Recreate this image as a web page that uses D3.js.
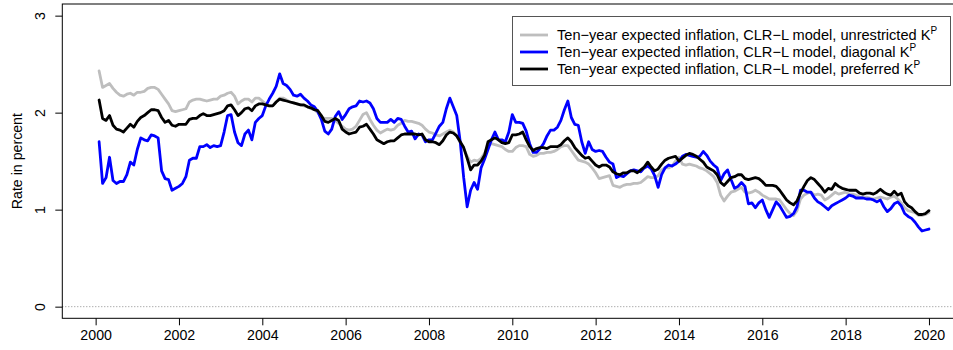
<!DOCTYPE html>
<html>
<head>
<meta charset="utf-8">
<script src="https://cdn.jsdelivr.net/npm/d3@7"></script>
<style>
  html, body { margin: 0; padding: 0; background: #ffffff; }
  svg { display: block; font-family: "Liberation Sans", Arial, Helvetica, sans-serif; }
</style>
</head>
<body>
<div id="chart"></div>
<script>
// Monthly observations, first one is February 2000
const startYear = 2000;
const startMonth = 2;

const unrestricted = [
  2.43,2.26,2.28,2.30,2.25,2.21,2.18,2.17,2.19,2.20,2.18,2.21,
  2.21,2.22,2.25,2.26,2.26,2.24,2.19,2.14,2.09,2.02,2.01,2.02,
  2.03,2.04,2.11,2.13,2.14,2.14,2.13,2.12,2.13,2.14,2.14,2.17,
  2.18,2.20,2.21,2.17,2.09,2.12,2.14,2.14,2.11,2.15,2.15,2.12,
  2.09,2.07,2.07,2.11,2.15,2.15,2.13,2.11,2.10,2.09,2.08,2.07,
  2.06,2.04,2.03,2.00,1.95,1.94,1.94,1.94,1.92,1.89,1.86,1.83,
  1.82,1.83,1.86,1.92,1.98,2.00,1.93,1.87,1.82,1.79,1.81,1.83,
  1.82,1.83,1.87,1.89,1.92,1.91,1.91,1.90,1.89,1.87,1.83,1.80,
  1.79,1.77,1.76,1.78,1.80,1.82,1.80,1.76,1.69,1.63,1.55,1.49,
  1.51,1.50,1.53,1.58,1.66,1.68,1.67,1.66,1.65,1.62,1.60,1.60,
  1.64,1.66,1.66,1.65,1.57,1.55,1.56,1.58,1.58,1.59,1.59,1.60,
  1.62,1.65,1.66,1.66,1.61,1.56,1.51,1.50,1.49,1.47,1.43,1.38,
  1.32,1.33,1.34,1.35,1.25,1.24,1.23,1.25,1.26,1.26,1.27,1.27,
  1.28,1.31,1.34,1.33,1.33,1.35,1.41,1.43,1.43,1.45,1.50,1.54,
  1.47,1.46,1.47,1.46,1.45,1.43,1.42,1.40,1.37,1.34,1.28,1.15,
  1.09,1.14,1.18,1.19,1.21,1.23,1.18,1.17,1.18,1.20,1.18,1.15,
  1.13,1.11,1.11,1.11,1.10,1.05,1.00,0.96,0.94,0.99,1.11,1.15,
  1.17,1.18,1.15,1.16,1.15,1.10,1.12,1.15,1.18,1.16,1.17,1.18,
  1.16,1.16,1.15,1.13,1.13,1.13,1.12,1.11,1.12,1.13,1.12,1.11,
  1.13,1.14,1.11,1.07,1.02,0.99,0.98,0.97,0.94,0.94,0.95,0.97
];

const diagonal = [
  1.70,1.27,1.33,1.54,1.30,1.27,1.29,1.29,1.36,1.49,1.46,1.62,
  1.74,1.72,1.71,1.77,1.76,1.74,1.40,1.32,1.31,1.20,1.22,1.24,
  1.27,1.34,1.51,1.53,1.53,1.65,1.65,1.67,1.64,1.66,1.65,1.66,
  1.80,1.97,1.98,1.80,1.69,1.66,1.78,1.82,1.72,1.90,1.94,1.97,
  2.07,2.14,2.20,2.27,2.40,2.30,2.28,2.24,2.18,2.17,2.19,2.15,
  2.12,2.08,2.06,2.01,1.93,1.81,1.78,1.83,1.96,2.01,1.93,1.98,
  2.04,2.06,2.07,2.12,2.11,2.12,2.10,2.04,1.94,1.90,1.90,1.90,
  1.93,1.90,1.94,1.93,1.86,1.80,1.81,1.73,1.78,1.77,1.70,1.72,
  1.72,1.79,1.86,1.90,2.04,2.15,2.06,1.97,1.70,1.33,1.03,1.20,
  1.28,1.21,1.43,1.52,1.62,1.72,1.80,1.72,1.72,1.70,1.80,1.98,
  1.90,1.90,1.89,1.81,1.68,1.59,1.59,1.63,1.68,1.76,1.82,1.82,
  1.85,1.92,2.03,2.12,1.95,1.88,1.87,1.70,1.58,1.70,1.62,1.60,
  1.61,1.60,1.54,1.49,1.47,1.33,1.35,1.34,1.37,1.40,1.41,1.40,
  1.39,1.43,1.45,1.42,1.35,1.23,1.36,1.43,1.46,1.45,1.47,1.50,
  1.55,1.57,1.56,1.55,1.54,1.55,1.60,1.56,1.50,1.46,1.43,1.30,
  1.37,1.41,1.31,1.22,1.24,1.28,1.24,1.06,1.07,1.02,1.07,1.10,
  1.00,0.92,1.00,1.08,1.04,0.98,0.92,0.93,0.96,1.03,1.20,1.20,
  1.18,1.18,1.12,1.08,1.06,1.03,1.00,1.04,1.06,1.08,1.10,1.12,
  1.15,1.14,1.12,1.12,1.12,1.11,1.11,1.10,1.08,1.10,1.03,0.98,
  1.01,1.06,1.08,1.04,0.96,0.93,0.91,0.87,0.82,0.78,0.79,0.80
];

const preferred = [
  2.13,1.94,1.92,1.97,1.87,1.83,1.82,1.80,1.84,1.88,1.85,1.91,
  1.95,1.97,2.00,2.03,2.03,2.02,1.95,1.90,1.92,1.87,1.86,1.88,
  1.88,1.88,1.93,1.94,1.94,1.97,1.99,1.97,1.97,1.98,1.99,2.00,
  2.02,2.07,2.08,2.03,1.97,2.00,2.04,2.05,2.02,2.07,2.09,2.09,
  2.08,2.07,2.07,2.11,2.14,2.13,2.12,2.11,2.10,2.09,2.08,2.08,
  2.06,2.05,2.03,2.02,1.97,1.91,1.90,1.92,1.94,1.92,1.83,1.80,
  1.78,1.79,1.80,1.85,1.86,1.88,1.83,1.78,1.72,1.70,1.68,1.70,
  1.71,1.71,1.74,1.77,1.78,1.78,1.78,1.78,1.77,1.78,1.72,1.70,
  1.70,1.69,1.67,1.71,1.77,1.80,1.79,1.76,1.70,1.64,1.53,1.41,
  1.46,1.46,1.50,1.56,1.70,1.72,1.74,1.72,1.69,1.68,1.69,1.77,
  1.77,1.78,1.80,1.72,1.65,1.61,1.63,1.64,1.64,1.63,1.65,1.65,
  1.65,1.67,1.71,1.74,1.70,1.64,1.60,1.56,1.53,1.54,1.50,1.46,
  1.44,1.46,1.46,1.44,1.39,1.37,1.36,1.38,1.38,1.40,1.40,1.38,
  1.41,1.44,1.49,1.44,1.40,1.42,1.47,1.51,1.53,1.54,1.55,1.50,
  1.53,1.56,1.58,1.57,1.55,1.52,1.49,1.44,1.42,1.40,1.36,1.28,
  1.25,1.29,1.33,1.34,1.36,1.36,1.32,1.31,1.32,1.33,1.32,1.29,
  1.25,1.25,1.25,1.24,1.20,1.15,1.10,1.07,1.05,1.09,1.17,1.24,
  1.30,1.33,1.31,1.27,1.23,1.18,1.22,1.21,1.27,1.24,1.22,1.21,
  1.20,1.20,1.20,1.17,1.16,1.17,1.17,1.16,1.18,1.21,1.18,1.16,
  1.15,1.19,1.15,1.17,1.08,1.04,1.02,0.98,0.95,0.95,0.96,0.99
];

const xTicks = [2000, 2002, 2004, 2006, 2008, 2010, 2012, 2014, 2016, 2018, 2020];
const yTicks = [0, 1, 2, 3];
const legendLabels = [
  "Ten\u2212year expected inflation, CLR\u2212L model, unrestricted K",
  "Ten\u2212year expected inflation, CLR\u2212L model, diagonal K",
  "Ten\u2212year expected inflation, CLR\u2212L model, preferred K"
];
const seriesColors = ["#bebebe", "#0000ff", "#000000"];
const yTitle = "Rate in percent";

const W = 953, H = 350;
const plot = { left: 62.3, top: 4, right: 962.3, bottom: 318.3 };
const fontFamily = "Liberation Sans, Arial, Helvetica, sans-serif";

const svg = d3.select("#chart").append("svg")
  .attr("width", W).attr("height", H)
  .attr("viewBox", `0 0 ${W} ${H}`);

const x = d3.scaleLinear().domain([1999.2, 2020.8]).range([plot.left, plot.right]);
const y = d3.scaleLinear().domain([-0.12, 3.12]).range([plot.bottom, plot.top]);

const toPoints = vals => vals.map((v, i) => ({ t: startYear + (startMonth - 1 + i) / 12, v }));
const series = [unrestricted, diagonal, preferred].map(toPoints);

// zero reference line
svg.append("line")
  .attr("x1", plot.left).attr("x2", plot.right)
  .attr("y1", y(0)).attr("y2", y(0))
  .attr("stroke", "#8c8c8c").attr("stroke-width", 1)
  .attr("stroke-dasharray", "1,2");

// series lines, clipped to the plot region
svg.append("clipPath").attr("id", "plotclip").append("rect")
  .attr("x", plot.left).attr("y", plot.top)
  .attr("width", plot.right - plot.left).attr("height", plot.bottom - plot.top);

const line = d3.line().x(d => x(d.t)).y(d => y(d.v));
series.forEach((pts, k) => {
  svg.append("path")
    .datum(pts)
    .attr("clip-path", "url(#plotclip)")
    .attr("fill", "none")
    .attr("stroke", seriesColors[k])
    .attr("stroke-width", 2.8)
    .attr("stroke-linejoin", "round")
    .attr("stroke-linecap", "round")
    .attr("d", line);
});

// plot frame
svg.append("rect")
  .attr("x", plot.left).attr("y", plot.top)
  .attr("width", plot.right - plot.left).attr("height", plot.bottom - plot.top)
  .attr("fill", "none").attr("stroke", "#000").attr("stroke-width", 1);

// x axis
const xAxis = d3.axisBottom(x).tickValues(xTicks).tickFormat(d3.format("d"))
  .tickSize(7).tickPadding(5);
const gx = svg.append("g").attr("transform", `translate(0,${plot.bottom})`).call(xAxis);
gx.select(".domain").remove();
gx.selectAll("text").attr("font-size", 14.2).attr("font-family", fontFamily).attr("fill", "#000");
gx.selectAll("line").attr("stroke", "#000");

// y axis, labels parallel to the axis
const yAxis = d3.axisLeft(y).tickValues(yTicks).tickFormat(d3.format("d")).tickSize(7);
const gy = svg.append("g").attr("transform", `translate(${plot.left},0)`).call(yAxis);
gy.select(".domain").remove();
gy.selectAll("line").attr("stroke", "#000");
gy.selectAll("text")
  .attr("font-size", 14.2).attr("font-family", fontFamily).attr("fill", "#000")
  .attr("x", null).attr("dy", null)
  .attr("text-anchor", "middle")
  .attr("transform", "translate(-17,0) rotate(-90)");

// y title
svg.append("text")
  .attr("transform", `translate(22,${(plot.top + plot.bottom) / 2}) rotate(-90)`)
  .attr("text-anchor", "middle")
  .attr("font-size", 14.2)
  .text(yTitle);

// legend
const lg = { x: 512, y: 16, w: 438, h: 69 };
svg.append("rect")
  .attr("x", lg.x + 0.5).attr("y", lg.y + 0.5)
  .attr("width", lg.w).attr("height", lg.h)
  .attr("fill", "#fff").attr("stroke", "#555").attr("stroke-width", 1);

legendLabels.forEach((lab, k) => {
  const cy = lg.y + 19 + k * 17;
  svg.append("line")
    .attr("x1", lg.x + 8).attr("x2", lg.x + 36)
    .attr("y1", cy).attr("y2", cy)
    .attr("stroke", seriesColors[k]).attr("stroke-width", 2.8);
  const t = svg.append("text")
    .attr("x", lg.x + 45).attr("y", cy + 5)
    .attr("font-size", 14.6);
  t.append("tspan").text(lab);
  t.append("tspan").attr("dy", -6.5).attr("font-size", 10).text("P");
});
</script>
</body>
</html>
